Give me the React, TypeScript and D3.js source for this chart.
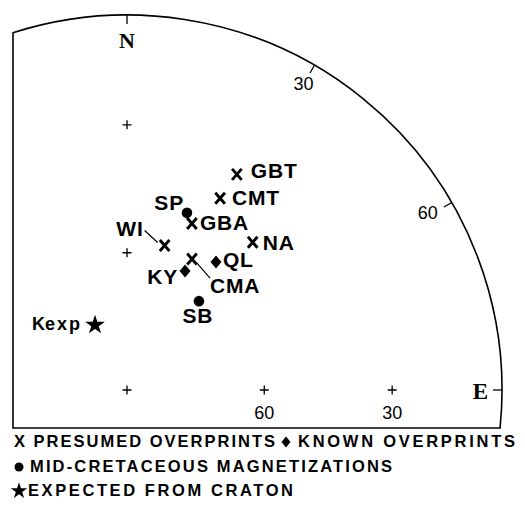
import React from 'react';
import * as d3 from 'd3';

// site poles (declination, inclination in degrees)
const presumedSites = ['GBT', 'CMT', 'GBA', 'WI', 'NA', 'CMA'];
const presumedDec = [27, 25.9, 21.3, 14.6, 40.4, 26.4];
const presumedInc = [35.7, 42.6, 50.6, 57.3, 47.1, 58.0];

const knownSites = ['QL', 'KY'];
const knownDec = [34.8, 26.0];
const knownInc = [55.8, 61.1];

const cretSites = ['SP', 'SB'];
const cretDec = [18.7, 39.0];
const cretInc = [48.7, 65.1];

const expectedSite = 'Kexp';
const expectedDec = 333.8;
const expectedInc = 74.3;

const rimTicks = [0, 30, 60, 90];
const rimLabels = ['N', '30', '60', 'E'];
const gridInc = [90, 60, 30];
const axisLabels = ['', '60', '30'];

// layout of the labels next to each mark (px from the mark)
const labelPos: Record<string, { dx: number; dy: number; anchor: string; lead?: number[] }> = {
  GBT: { dx: 14, dy: 4, anchor: 'start' },
  CMT: { dx: 12, dy: 7, anchor: 'start' },
  GBA: { dx: 8, dy: 7, anchor: 'start' },
  NA: { dx: 10, dy: 8, anchor: 'start' },
  WI: { dx: -21, dy: -10, anchor: 'end', lead: [-20, -15, -7, -3] },
  CMA: { dx: 18, dy: 34, anchor: 'start', lead: [5, 4, 18, 19] },
  QL: { dx: 7, dy: 5, anchor: 'start' },
  KY: { dx: -7, dy: 13, anchor: 'end' },
  SP: { dx: -3, dy: -3, anchor: 'end' },
  SB: { dx: -1, dy: 22, anchor: 'middle' },
};

const W = 525;
const H = 510;
const cx = 127;
const cy = 390;
const R = 375;
const FONT = '"Liberation Sans", Arial, Helvetica, sans-serif';
const SERIF = '"Liberation Serif", "Times New Roman", serif';

// equal-area (Schmidt) projection, lower hemisphere
const rScale = d3.scaleLinear().domain([0, 1]).range([0, R]);
const proj = (dec: number, inc: number): [number, number] => {
  const r = Math.SQRT2 * Math.sin(((90 - inc) / 2) * (Math.PI / 180));
  const a = (dec * Math.PI) / 180;
  return [cx + rScale(r) * Math.sin(a), cy - rScale(r) * Math.cos(a)];
};

const xMark = (x: number, y: number, k: string) => (
  <path key={k} d={`M${x - 4.8},${y - 5.5}L${x + 4.8},${y + 5.5}M${x + 4.8},${y - 5.5}L${x - 4.8},${y + 5.5}`}
    stroke="#000" strokeWidth={2.9} fill="none" />
);
const diamond = (x: number, y: number, w: number, h: number, k: string) => (
  <path key={k} d={`M${x},${y - h}L${x + w},${y}L${x},${y + h}L${x - w},${y}Z`} fill="#000" />
);
const star = d3.symbol().type(d3.symbolStar);

const Label = ({ site, x, y }: { site: string; x: number; y: number }) => {
  const p = labelPos[site];
  return (
    <g>
      {p.lead && (
        <line x1={x + p.lead[0]} y1={y + p.lead[1]} x2={x + p.lead[2]} y2={y + p.lead[3]} stroke="#000" strokeWidth={1.2} />
      )}
      <text x={x + p.dx} y={y + p.dy} textAnchor={p.anchor as any} fontFamily={FONT} fontWeight="bold"
        fontSize={21} letterSpacing={0.8}>{site}</text>
    </g>
  );
};

export default function App() {
  // frame: left edge, bottom edge, and the primitive circle between them
  const xl = 13;
  const yb = 428;
  const yTop = cy - Math.sqrt(R * R - (cx - xl) ** 2);
  const xRight = cx + Math.sqrt(R * R - (yb - cy) ** 2);
  const frame = `M${xl},${yTop}A${R},${R} 0 0 1 ${xRight},${yb}L${xl},${yb}Z`;

  const presumed = presumedSites.map((s, i) => ({ s, p: proj(presumedDec[i], presumedInc[i]) }));
  const known = knownSites.map((s, i) => ({ s, p: proj(knownDec[i], knownInc[i]) }));
  const cret = cretSites.map((s, i) => ({ s, p: proj(cretDec[i], cretInc[i]) }));
  const kexp = proj(expectedDec, expectedInc);

  const grid: [number, number][] = [];
  gridInc.forEach((inc) => {
    grid.push(proj(0, inc));
    if (inc !== 90) grid.push(proj(90, inc));
  });

  return (
    <svg width={W} height={H} style={{ position: 'absolute', left: 0, top: 0, background: '#fff' }}>
      <path d={frame} fill="none" stroke="#000" strokeWidth={1.6} />

      {rimTicks.map((d, i) => {
        const [x1, y1] = proj(d, 0);
        const a = (d * Math.PI) / 180;
        const x2 = x1 - 9 * Math.sin(a);
        const y2 = y1 + 9 * Math.cos(a);
        return <line key={'t' + i} x1={x1} y1={y1} x2={x2} y2={y2} stroke="#000" strokeWidth={1.3} />;
      })}
      <text x={proj(0, 0)[0]} y={proj(0, 0)[1] + 33} textAnchor="middle" fontFamily={SERIF} fontWeight="bold" fontSize={22}>{rimLabels[0]}</text>
      <text x={proj(30, 0)[0] - 11} y={proj(30, 0)[1] + 25} textAnchor="middle" fontFamily={FONT} fontSize={18}>{rimLabels[1]}</text>
      <text x={proj(60, 0)[0] - 24} y={proj(60, 0)[1] + 16} textAnchor="middle" fontFamily={FONT} fontSize={18}>{rimLabels[2]}</text>
      <text x={proj(90, 0)[0] - 14} y={proj(90, 0)[1] + 9} textAnchor="end" fontFamily={SERIF} fontWeight="bold" fontSize={23}>{rimLabels[3]}</text>

      {grid.map(([x, y], i) => (
        <path key={'g' + i} d={`M${x - 4.5},${y}H${x + 4.5}M${x},${y - 4.5}V${y + 4.5}`} stroke="#000" strokeWidth={1.3} />
      ))}
      {gridInc.map((inc, i) => {
        if (!axisLabels[i]) return null;
        const [x, y] = proj(90, inc);
        return <text key={'al' + i} x={x} y={y + 29} textAnchor="middle" fontFamily={FONT} fontSize={18}>{axisLabels[i]}</text>;
      })}

      {presumed.map(({ s, p }) => xMark(p[0], p[1], 'x' + s))}
      {known.map(({ s, p }) => diamond(p[0], p[1], 5.5, 6.5, 'd' + s))}
      {cret.map(({ s, p }) => <circle key={'c' + s} cx={p[0]} cy={p[1]} r={5.3} fill="#000" />)}
      <path d={star.size(120)() || ''} transform={`translate(${kexp[0]},${kexp[1]})`} fill="#000" />

      {[...presumed, ...known, ...cret].map(({ s, p }) => <Label key={'l' + s} site={s} x={p[0]} y={p[1]} />)}
      <text x={kexp[0] - 13} y={kexp[1] + 5} textAnchor="end" fontFamily={FONT} fontWeight="bold" fontSize={18}>
        <tspan>K</tspan><tspan letterSpacing={2}>exp</tspan>
      </text>

      {/* legend */}
      <g fontFamily={FONT} fontWeight="bold" fontSize={16.5}>
        <text x={14} y={447} textLength={261} lengthAdjust="spacing">X PRESUMED OVERPRINTS</text>
        {diamond(286, 442, 4.5, 5.5, 'ld')}
        <text x={298} y={447} textLength={217} lengthAdjust="spacing">KNOWN OVERPRINTS</text>
        <circle cx={19} cy={467} r={4.5} fill="#000" />
        <text x={30} y={472} textLength={362} lengthAdjust="spacing">MID-CRETACEOUS MAGNETIZATIONS</text>
        <path d={star.size(85)() || ''} transform="translate(19,491)" fill="#000" />
        <text x={28} y={496} textLength={265} lengthAdjust="spacing">EXPECTED FROM CRATON</text>
      </g>
    </svg>
  );
}
